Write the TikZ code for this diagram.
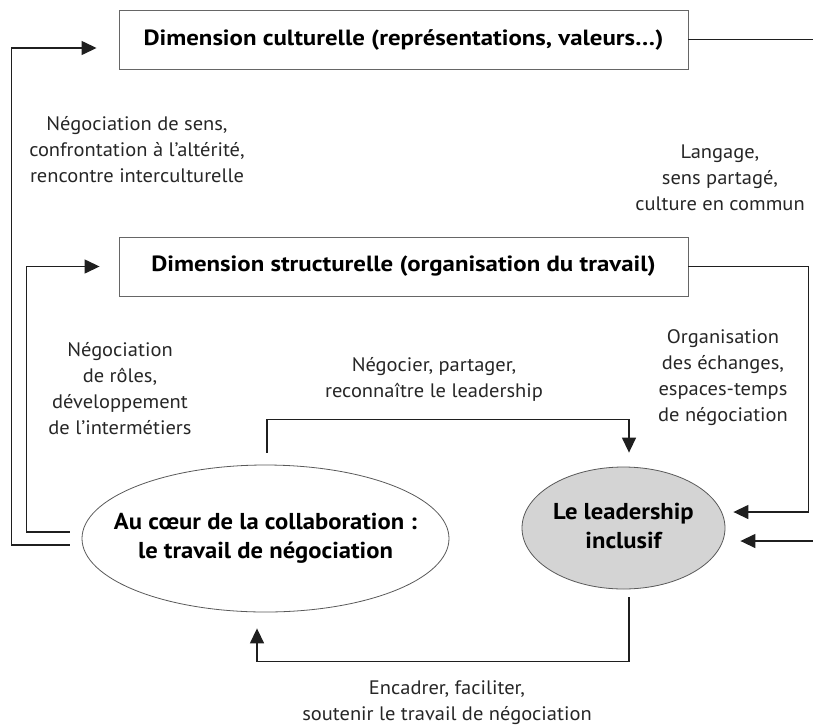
\documentclass[tikz,border=0pt]{standalone}
\usepackage{fontspec}
\setmainfont{PT Sans}
\usetikzlibrary{shapes.geometric,arrows.meta}
\newcommand{\zerowide}[1]{\makebox[0pt]{\begin{tabular}{@{}c@{}}#1\end{tabular}}}
\tikzset{
  conn/.style={line width=1.4pt, draw=black!88},
  arr/.style={conn, -{Triangle[length=15pt,width=14pt]}},
  dimbox/.style={draw=black!60, line width=0.9pt, minimum width=569pt, minimum height=59pt,
    inner sep=0pt, font=\fontsize{22}{26}\selectfont\bfseries\addfontfeature{FakeStretch=1.13}},
  ovalnode/.style={ellipse, draw=black!65, line width=0.8pt, inner sep=0pt,
    font=\fontsize{23}{29}\selectfont\bfseries\addfontfeature{FakeStretch=1.07}},
  lbl/.style={align=center, inner sep=0pt, text=black!85,
    font=\fontsize{19.5}{26}\selectfont\addfontfeature{FakeStretch=1.05}}
}
\begin{document}
\begin{tikzpicture}[x=1pt,y=-1pt]
\useasboundingbox (0,0) rectangle (813,726);
\node[dimbox] (cult) at (403.5,39.5) {Dimension culturelle (représentations, valeurs…)};
\node[dimbox] (struc) at (403.5,266.5) {Dimension structurelle (organisation du travail)};
\node[ovalnode, minimum width=367pt, minimum height=147pt] (collab) at (265.5,538.5)
  {\zerowide{Au cœur de la collaboration :\\le travail de négociation}};
\node[ovalnode, fill=black!17, minimum width=203pt, minimum height=122pt] (lead) at (623.5,528)
  {\zerowide{Le leadership\\inclusif}};

\node[lbl] (l1) at (137,150) {Négociation de sens,\\confrontation à l’altérité,\\rencontre interculturelle};
\node[lbl] (l2) at (720,178) {Langage,\\sens partagé,\\culture en commun};
\node[lbl] (l3) at (120,389) {Négociation\\de rôles,\\développement\\de l’intermétiers};
\node[lbl] (l4) at (434,379) {Négocier, partager,\\reconnaître le leadership};
\node[lbl] (l5) at (723,378) {Organisation\\des échanges,\\espaces-temps\\de négociation};
\node[lbl] (l6) at (447,703) {Encadrer, faciliter,\\soutenir le travail de négociation};

\coordinate (cultout) at (813,39.5);
\coordinate (rin) at (813,541);

\draw[arr] ([shift={(-12pt,-6.5pt)}]collab.west) -- ++(-58pt,0) |- ([shift={(-22pt,-8.5pt)}]cult.west);
\draw[arr] ([shift={(-12pt,6.5pt)}]collab.west) -- ++(-43pt,0) |- ([xshift=-19pt]struc.west);
\draw[conn] (cult.east) -- (cultout);
\draw[arr] (struc.east) -- ++(120pt,0) |- ([shift={(8pt,16pt)}]lead.east);
\draw[arr] (rin) -- ([shift={(15pt,-13pt)}]lead.east);
\draw[arr] ([shift={(1.5pt,12pt)}]collab.north) -- ++(0,33pt) -| ([shift={(5.5pt,14pt)}]lead.north);
\draw[arr] ([shift={(5.5pt,-8pt)}]lead.south) -- ++(0,-64pt) -| ([shift={(-8.5pt,-16pt)}]collab.south);
\end{tikzpicture}
\end{document}
